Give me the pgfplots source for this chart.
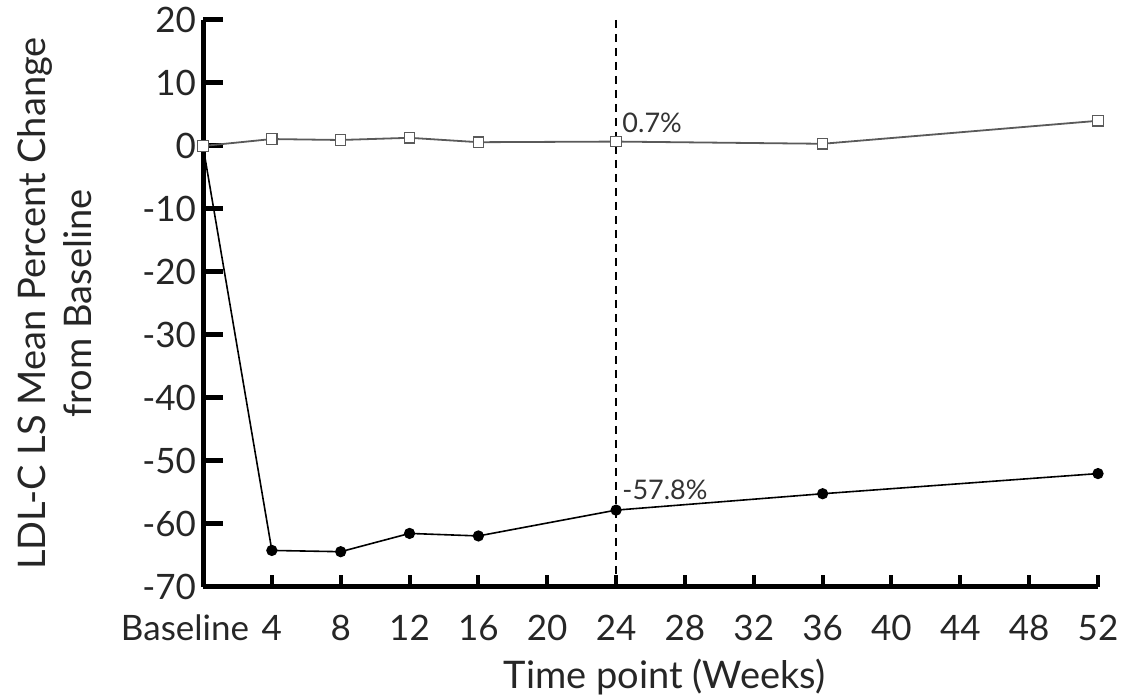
\documentclass[border=0pt]{standalone}
\usepackage{fontspec}
\setmainfont{Lato}
\usepackage{pgfplots}
\pgfplotsset{compat=1.18}
\definecolor{plgray}{HTML}{5A5A5A}
\begin{document}
\begin{tikzpicture}
\begin{axis}[
  name=ax,
  scale only axis,
  width=447.5pt, height=283.5pt,
  xmin=0, xmax=52, ymin=-70, ymax=20,
  axis y line=left, axis x line=none,
  axis line style={-, line width=2.5pt, black},
  ytick={-70,-60,-50,-40,-30,-20,-10,0,10,20},
  yticklabels={-70,-60,-50,-40,-30,-20,-10,0,10,20},
  tick align=inside,
  major tick length=10pt,
  ytick style={line width=2.5pt, black},
  yticklabel style={font=\fontsize{17.5}{21}\selectfont, text=black!85},
  ylabel={LDL-C LS Mean Percent Change\\from Baseline},
  ylabel style={at={(axis description cs:-0.1654,0.5)}, anchor=center,
    align=center, font=\fontsize{19}{23}\selectfont, text=black!85},
  clip=false,
]
\draw[black, line width=0.7pt, dash pattern=on 4pt off 3pt] (axis cs:24,20) -- (axis cs:24,-70);
\addplot[black, line width=0.8pt, mark=*, mark size=2.4pt]
  coordinates {(0,0) (4,-64.2) (8,-64.4) (12,-61.5) (16,-61.9) (24,-57.8) (36,-55.2) (52,-52.0)};
\addplot[plgray, line width=0.9pt, mark=square*, mark size=2.6pt,
  mark options={fill=white, draw=plgray, line width=0.6pt}]
  coordinates {(0,0) (4,1.1) (8,0.95) (12,1.3) (16,0.6) (24,0.7) (36,0.35) (52,4.0)};
\node[anchor=south west, font=\fontsize{13.5}{16}\selectfont, text=black!80, inner sep=3pt, yshift=1pt]
  at (axis cs:24,0.7) {0.7\%};
\node[anchor=south west, font=\fontsize{13.5}{16}\selectfont, text=black!80, inner sep=3pt, yshift=2pt]
  at (axis cs:24,-57.8) {-57.8\%};
\end{axis}
\begin{axis}[
  scale only axis,
  width=447.5pt, height=283.5pt,
  xmin=0, xmax=52, ymin=-70, ymax=20,
  axis x line=bottom, axis y line=none,
  axis line style={-, line width=2.5pt, black},
  xtick={0,4,8,12,16,20,24,28,32,36,40,44,48,52},
  xticklabels={\hspace*{-18pt}Baseline,4,8,12,16,20,24,28,32,36,40,44,48,52},
  tick align=inside,
  major tick length=6pt,
  xtick style={line width=2pt, black},
  xticklabel style={anchor=base, yshift=-27pt, font=\fontsize{17.5}{21}\selectfont, text=black!85},
  xlabel={Time point (Weeks)},
  xlabel style={at={(axis description cs:0.5,0)}, anchor=base, yshift=-51pt, xshift=7pt,
    font=\fontsize{19}{23}\selectfont, text=black!85},
]
\end{axis}
\pgfresetboundingbox
\path ([xshift=-101.5pt,yshift=-55.5pt]ax.south west) rectangle ([xshift=13.5pt,yshift=10pt]ax.north east);
\end{tikzpicture}
\end{document}
